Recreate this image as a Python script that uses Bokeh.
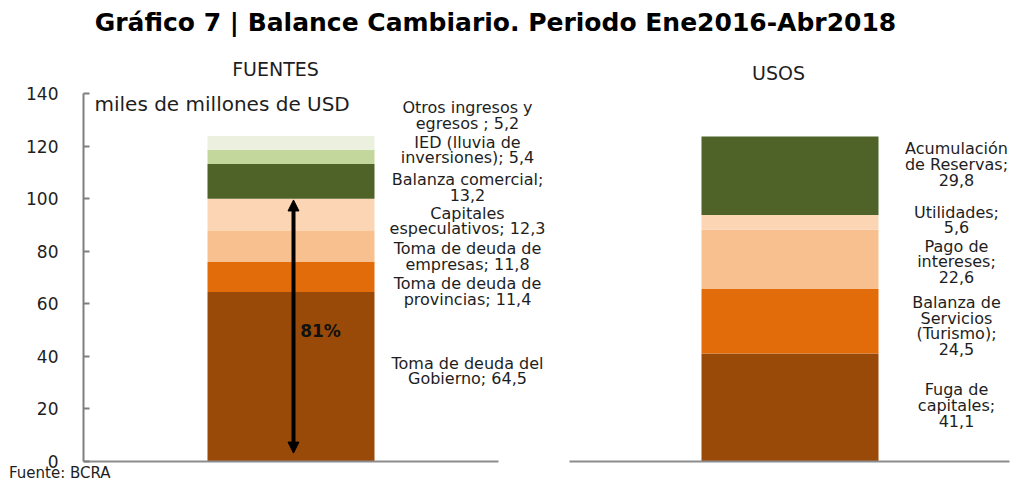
from bokeh.plotting import figure
from bokeh.models import Range1d, FixedTicker, ColumnDataSource, Label, Arrow, NormalHead, Div
from bokeh.layouts import column
from bokeh.core.properties import value
from bokeh.embed import file_html
from bokeh.resources import INLINE
import numpy as np

# ---------------- data ----------------
fuentes_names = ["Toma de deuda del\nGobierno", "Toma de deuda de\nprovincias", "Toma de deuda de\nempresas",
                 "Capitales\nespeculativos", "Balanza comercial", "IED (lluvia de\ninversiones)",
                 "Otros ingresos y\negresos "]
fuentes_sep = [" ", " ", " ", " ", "\n", " ", " "]
fuentes_values = [64.5, 11.4, 11.8, 12.3, 13.2, 5.4, 5.2]

usos_names = ["Fuga de\ncapitales", "Balanza de\nServicios\n(Turismo)", "Pago de\nintereses",
              "Utilidades", "Acumulación\nde Reservas"]
usos_sep = ["\n", "\n", "\n", "\n", "\n"]
usos_values = [41.1, 24.5, 22.6, 5.6, 29.8]

debt_count = 4  # the first four "fuentes" are debt flows (81%)
y_ticks = [0, 20, 40, 60, 80, 100, 120, 140]

# ---------------- styles / layout ----------------
fuentes_colors = ["#9A4A08", "#E36C0A", "#F9C08F", "#FCD5B4", "#4F6228", "#C3D69B", "#EBF1DE"]
usos_colors = ["#9A4A08", "#E36C0A", "#F9C08F", "#FCD5B4", "#4F6228"]
fuentes_label_y = [34.4, 64.7, 78.0, 91.5, 104.2, 118.5, 131.6]
usos_label_y = [21.3, 51.5, 75.9, 91.9, 113.0]

W, H = 1020, 471
PX = 368 / 140.0           # pixels per unit
Y0 = 461                   # y pixel of value 0
y_top = Y0 / PX
y_bot = -(H - Y0) / PX

FONT = "DejaVu Sans"
TXT = "#1e1e1e"

p = figure(width=W, height=H, output_backend="svg", toolbar_location=None,
           x_range=Range1d(83, W), y_range=Range1d(y_bot, y_top),
           x_axis_location=None, min_border_left=83, min_border_right=0,
           min_border_top=0, min_border_bottom=0, title=None)
p.outline_line_color = None
p.xgrid.visible = False
p.ygrid.visible = False
p.background_fill_color = "white"
p.border_fill_color = "white"

ax = p.yaxis[0]
ax.ticker = FixedTicker(ticks=y_ticks)
ax.bounds = (0, 140)
ax.axis_line_color = "#7f7f7f"
ax.axis_line_width = 2
ax.major_tick_in = 6
ax.major_tick_out = 0
ax.major_tick_line_color = "#7f7f7f"
ax.major_tick_line_width = 2
ax.minor_tick_line_color = None
ax.major_label_standoff = 25
ax.major_label_text_font = FONT
ax.major_label_text_font_size = "17px"
ax.major_label_text_color = TXT

# ---------------- stacked bars ----------------
def stack(vals):
    top = np.cumsum(vals)
    bottom = top - np.array(vals)
    return bottom, top

fb, ft = stack(fuentes_values)
ub, ut = stack(usos_values)

left_center, left_width = 290.5, 167
right_center, right_width = 789.5, 177

src_f = ColumnDataSource(dict(x=[left_center] * len(fuentes_values), bottom=fb, top=ft, color=fuentes_colors))
src_u = ColumnDataSource(dict(x=[right_center] * len(usos_values), bottom=ub, top=ut, color=usos_colors))
p.vbar(x="x", bottom="bottom", top="top", width=left_width, fill_color="color", line_color=None, source=src_f)
p.vbar(x="x", bottom="bottom", top="top", width=right_width, fill_color="color", line_color=None, source=src_u)

# baselines
p.segment(x0=[83, 569], y0=[0, 0], x1=[498, 1009], y1=[0, 0], line_color="#8c8c8c", line_width=2)

# ---------------- data labels ----------------
def fmt(v):
    return f"{v:.1f}".replace(".", ",")

f_text = [f"{n};{s}{fmt(v)}" for n, s, v in zip(fuentes_names, fuentes_sep, fuentes_values)]
u_text = [f"{n};{s}{fmt(v)}" for n, s, v in zip(usos_names, usos_sep, usos_values)]

p.text(x=[467] * len(f_text), y=fuentes_label_y, text=f_text, text_align="center", text_baseline="middle",
       text_font=value(FONT), text_font_size="16px", text_color=TXT, text_line_height=0.82)
p.text(x=[956] * len(u_text), y=usos_label_y, text=u_text, text_align="center", text_baseline="middle",
       text_font=value(FONT), text_font_size="16px", text_color=TXT, text_line_height=0.82)

# ---------------- arrow & share ----------------
debt_total = float(np.sum(fuentes_values[:debt_count]))
share = 100 * debt_total / float(np.sum(fuentes_values))
p.add_layout(Arrow(start=NormalHead(size=11, fill_color="black", line_color="black"),
                   end=NormalHead(size=11, fill_color="black", line_color="black"),
                   x_start=293, y_start=3.2, x_end=293, y_end=debt_total - 0.5,
                   line_color="black", line_width=4))
p.add_layout(Label(x=320, y=49.8, text=f"{share:.0f}%", text_align="center", text_baseline="middle",
                   text_font=FONT, text_font_style="bold", text_font_size="17px", text_color="#111111"))

# ---------------- titles & notes ----------------
p.add_layout(Label(x=495, y=(Y0 - 22) / PX, text="Gráfico 7 | Balance Cambiario. Periodo Ene2016-Abr2018",
                   text_align="center", text_baseline="middle", text_font=FONT, text_font_style="bold",
                   text_font_size="25px", text_color="#000000"))
p.add_layout(Label(x=275, y=(Y0 - 68) / PX, text="FUENTES", text_align="center", text_baseline="middle",
                   text_font=FONT, text_font_size="19px", text_color=TXT))
p.add_layout(Label(x=778, y=(Y0 - 72) / PX, text="USOS", text_align="center", text_baseline="middle",
                   text_font=FONT, text_font_size="19px", text_color=TXT))
p.add_layout(Label(x=94, y=(Y0 - 103) / PX, text="miles de millones de USD", text_align="left",
                   text_baseline="middle", text_font=FONT, text_font_size="20px", text_color=TXT))

source_note = Div(text="Fuente: BCRA", width=300, height=17, margin=(-6, 0, 0, 9),
                  styles={"font-family": FONT, "font-size": "15px", "line-height": "17px",
                          "color": TXT, "white-space": "nowrap"})

layout = column(p, source_note, spacing=0)
open("out.html", "w").write(file_html(layout, INLINE))
